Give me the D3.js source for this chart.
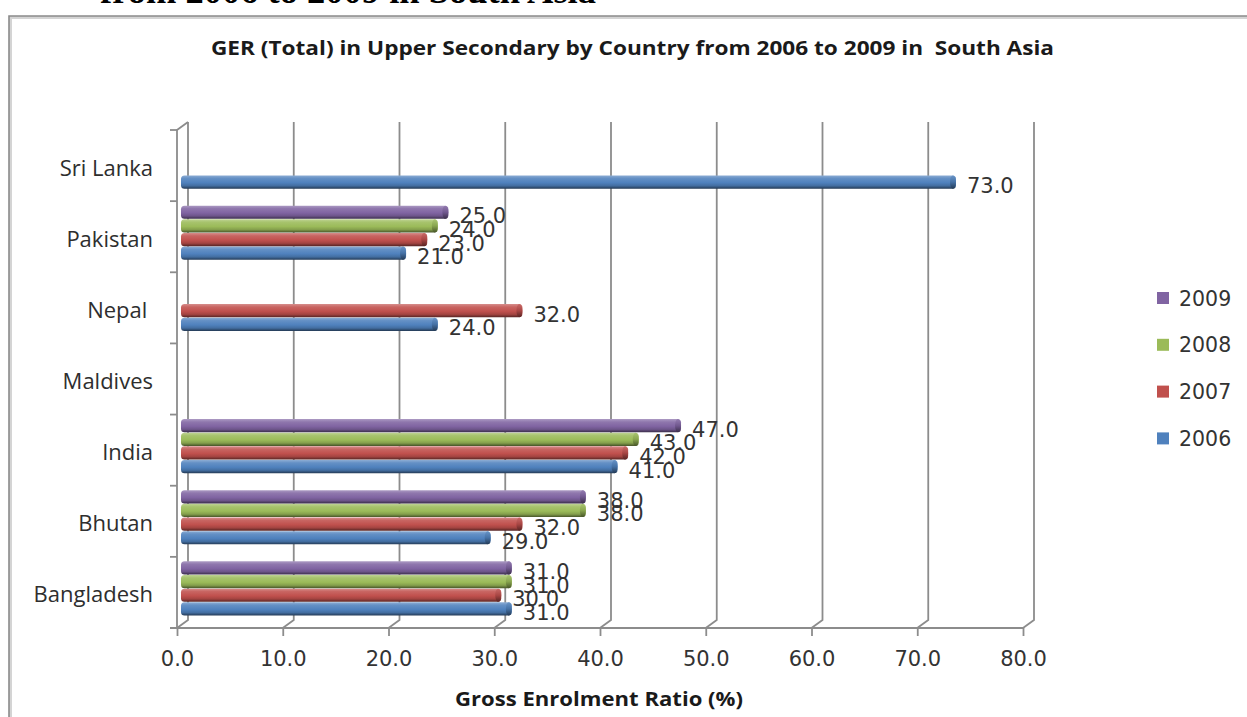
<!DOCTYPE html>
<html>
<head>
<meta charset="utf-8">
<script src="https://cdn.jsdelivr.net/npm/d3@7"></script>
<style>
  html, body { margin: 0; padding: 0; background: #ffffff; }
  svg { display: block; }
</style>
</head>
<body>
<svg id="chart" width="1247" height="717"></svg>
<script>
// ---- data -------------------------------------------------------------
const countries = ["Bangladesh", "Bhutan", "India", "Maldives", "Nepal", "Pakistan", "Sri Lanka"];
const countryLabels = ["Bangladesh", "Bhutan", "India", "Maldives", "Nepal ", "Pakistan", "Sri Lanka"];
const years = ["2006", "2007", "2008", "2009"];
const ger2006 = [31, 29, 41, null, 24, 21, 73];
const ger2007 = [30, 32, 42, null, 32, 23, null];
const ger2008 = [31, 38, 43, null, null, 24, null];
const ger2009 = [31, 38, 47, null, null, 25, null];
const xTicks = [0, 10, 20, 30, 40, 50, 60, 70, 80];
const seriesColors = ["#4F81BD", "#C0504D", "#9BBB59", "#8064A2"];

const headingTail = "from 2006 to 2009 in South Asia";
const chartTitle = "GER (Total) in Upper Secondary by Country from 2006 to 2009 in  South Asia";
const xTitle = "Gross Enrolment Ratio (%)";

const seriesValues = { "2006": ger2006, "2007": ger2007, "2008": ger2008, "2009": ger2009 };
const colorOf = d3.scaleOrdinal().domain(years).range(seriesColors);

// ---- layout -----------------------------------------------------------
const svg = d3.select("#chart");
const plot = { left: 177, right: 1023, top: 130, bottom: 628 };
const depth = { dx: 11, dy: -8 };        // offset of the back wall
const barShift = { dx: 5, dy: -4 };      // bars sit half way into the depth

const x = d3.scaleLinear().domain([0, 80]).range([plot.left, plot.right]);
const y = d3.scaleBand().domain(countries.slice().reverse()).range([plot.top, plot.bottom]);
const groupPad = 8.5;
const sub = d3.scaleBand()
  .domain(years.slice().reverse())
  .range([groupPad, y.bandwidth() - groupPad])
  .paddingInner(0.03);

const numFont = "'DejaVu Sans', Verdana, sans-serif";
const textFont = "'Open Sans', 'Noto Sans', sans-serif";
const gridColor = "#8c8c8c";

// ---- heading fragment above the chart frame ---------------------------
svg.append("text")
  .attr("x", 100).attr("y", 3)
  .attr("font-family", "'Liberation Serif', 'Times New Roman', serif")
  .attr("font-weight", "bold")
  .attr("font-size", 36)
  .attr("textLength", 496)
  .attr("lengthAdjust", "spacingAndGlyphs")
  .attr("fill", "#000")
  .text(headingTail);

// ---- chart frame ------------------------------------------------------
svg.append("path")
  .attr("d", "M10.5,717 L10.5,17.5 L1247,17.5")
  .attr("fill", "none").attr("stroke", "#d4d4d4").attr("stroke-width", 3);
svg.append("path")
  .attr("d", "M9,717 L9,16 L1247,16")
  .attr("fill", "none").attr("stroke", "#8a8a8a").attr("stroke-width", 1.6);

// ---- chart title ------------------------------------------------------
svg.append("text")
  .attr("x", 211).attr("y", 55)
  .attr("font-family", textFont)
  .attr("font-weight", "bold")
  .attr("font-size", 19.5)
  .attr("textLength", 843)
  .attr("lengthAdjust", "spacingAndGlyphs")
  .style("white-space", "pre")
  .attr("fill", "#1a1a1a")
  .text(chartTitle);

// ---- back wall gridlines and left wall ---------------------------------
const grid = svg.append("g").attr("fill", "none").attr("stroke", gridColor).attr("stroke-width", 1.8);
grid.selectAll("path.grid")
  .data(xTicks)
  .join("path")
  .attr("class", "grid")
  .attr("d", v => {
    const bx = x(v) + depth.dx;
    return `M${bx},${plot.top + depth.dy} L${bx},${plot.bottom + depth.dy} L${x(v)},${plot.bottom}`;
  });
// left wall: front edge and top diagonal
grid.append("path")
  .attr("d", `M${x(0) + depth.dx},${plot.top + depth.dy} L${x(0)},${plot.top} L${x(0)},${plot.bottom}`);

// category tick marks on the left edge
const boundaries = y.domain().map(c => y(c)).concat([plot.bottom]);
grid.selectAll("line.ctick")
  .data(boundaries)
  .join("line")
  .attr("class", "ctick")
  .attr("x1", x(0) - 7).attr("x2", x(0))
  .attr("y1", d => d).attr("y2", d => d);

// ---- value axis -------------------------------------------------------
const xAxis = d3.axisBottom(x)
  .tickValues(xTicks)
  .tickFormat(d3.format(".1f"))
  .tickSize(8)
  .tickPadding(15);
const axisG = svg.append("g")
  .attr("transform", `translate(0,${plot.bottom})`)
  .call(xAxis);
axisG.select(".domain").remove();
axisG.selectAll(".tick line").attr("stroke", gridColor).attr("stroke-width", 1.8);
axisG.selectAll(".tick text")
  .attr("font-family", numFont)
  .attr("font-size", 21)
  .attr("fill", "#333");
svg.append("line")
  .attr("x1", x(0) - 7).attr("x2", x(80))
  .attr("y1", plot.bottom).attr("y2", plot.bottom)
  .attr("stroke", gridColor).attr("stroke-width", 1.8);

// axis title
svg.append("text")
  .attr("x", 455).attr("y", 706)
  .attr("font-family", textFont)
  .attr("font-weight", "bold")
  .attr("font-size", 20)
  .attr("textLength", 288)
  .attr("lengthAdjust", "spacingAndGlyphs")
  .attr("fill", "#1a1a1a")
  .text(xTitle);

// category labels
svg.append("g")
  .selectAll("text")
  .data(countries)
  .join("text")
  .attr("x", 153)
  .attr("y", c => y(c) + y.bandwidth() / 2 + 10)
  .attr("text-anchor", "end")
  .attr("font-family", textFont)
  .attr("font-size", 22)
  .attr("fill", "#2e2e2e")
  .style("white-space", "pre")
  .text((c, i) => countryLabels[i]);

// ---- bar shading ------------------------------------------------------
const defs = svg.append("defs");
years.forEach(yr => {
  const base = colorOf(yr);
  const light = d3.interpolateRgb(base, "#ffffff");
  const dark = d3.interpolateRgb(base, "#000000");
  const g = defs.append("linearGradient")
    .attr("id", "bar-" + yr)
    .attr("x1", 0).attr("y1", 0).attr("x2", 0).attr("y2", 1);
  [[0, light(0.35)], [0.22, light(0.12)], [0.55, base], [0.78, dark(0.15)], [1, dark(0.55)]]
    .forEach(([o, c]) => g.append("stop").attr("offset", o).attr("stop-color", c));
  const cap = defs.append("linearGradient")
    .attr("id", "cap-" + yr)
    .attr("x1", 0).attr("y1", 0).attr("x2", 0).attr("y2", 1);
  [[0, light(0.15)], [0.5, dark(0.12)], [1, dark(0.55)]]
    .forEach(([o, c]) => cap.append("stop").attr("offset", o).attr("stop-color", c));
});

// ---- bars -------------------------------------------------------------
const barData = [];
countries.forEach((c, i) => {
  years.forEach(yr => {
    const v = seriesValues[yr][i];
    if (v !== null && v !== undefined) barData.push({ country: c, year: yr, value: v });
  });
});

const barTop = d => y(d.country) + sub(d.year) + barShift.dy;
const barH = sub.bandwidth();
const barLeft = x(0) + 4;
const barRight = d => x(d.value) + barShift.dx + 2;

const bars = svg.append("g").selectAll("g.bar")
  .data(barData)
  .join("g")
  .attr("class", "bar");

bars.append("rect")
  .attr("x", barLeft)
  .attr("y", barTop)
  .attr("width", d => barRight(d) - barLeft)
  .attr("height", barH)
  .attr("rx", 3.5)
  .attr("fill", d => `url(#bar-${d.year})`);

bars.append("ellipse")
  .attr("cx", d => barRight(d) - 3)
  .attr("cy", d => barTop(d) + barH / 2)
  .attr("rx", 3)
  .attr("ry", barH / 2)
  .attr("fill", d => `url(#cap-${d.year})`);

// value labels
svg.append("g")
  .selectAll("text")
  .data(barData)
  .join("text")
  .attr("x", d => barRight(d) + 11)
  .attr("y", d => barTop(d) + barH / 2 + 11)
  .attr("font-family", numFont)
  .attr("font-size", 21)
  .attr("fill", "#333")
  .text(d => d3.format(".1f")(d.value));

// ---- legend -----------------------------------------------------------
const legendYears = years.slice().reverse();
const legend = svg.append("g")
  .selectAll("g")
  .data(legendYears)
  .join("g")
  .attr("transform", (d, i) => `translate(1157,${298 + i * 46.8})`);
legend.append("rect")
  .attr("x", 0).attr("y", -6)
  .attr("width", 12).attr("height", 12)
  .attr("fill", d => colorOf(d));
legend.append("text")
  .attr("x", 22).attr("y", 7.5)
  .attr("font-family", numFont)
  .attr("font-size", 20.5)
  .attr("fill", "#333")
  .text(d => d);
</script>
</body>
</html>
